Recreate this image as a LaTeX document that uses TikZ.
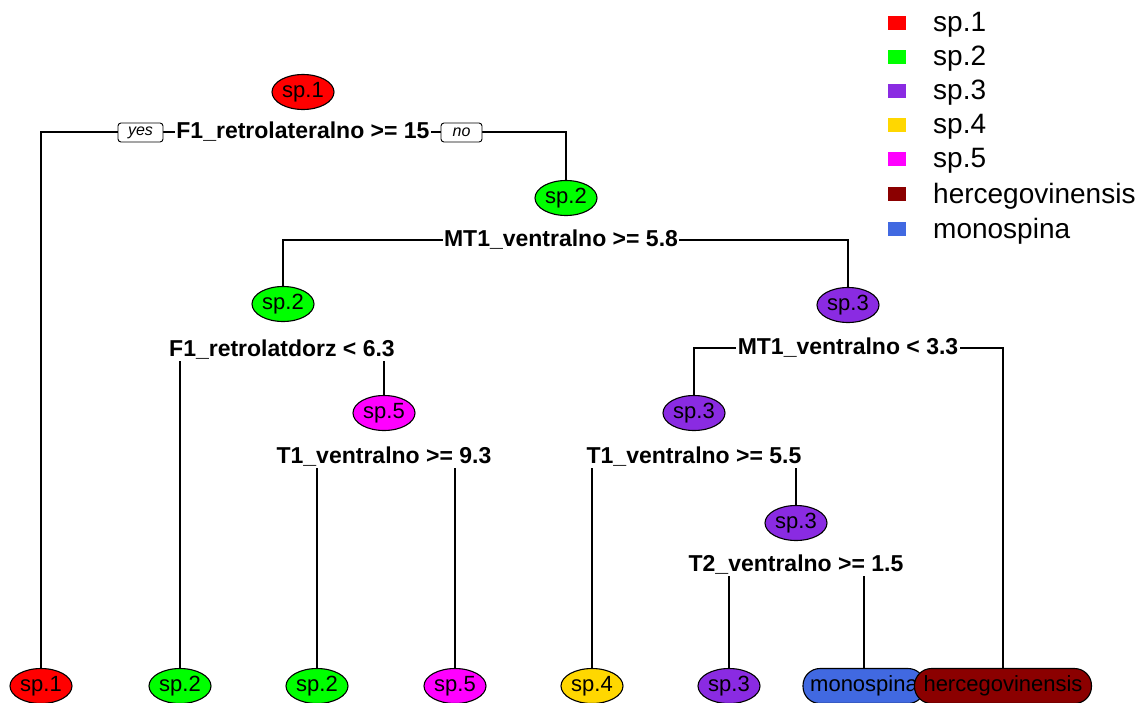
\documentclass[tikz,border=0pt]{standalone}
\usepackage{fontspec}
\setmainfont{Liberation Sans}
\usetikzlibrary{shapes.geometric,backgrounds}
\definecolor{cred}{HTML}{FF0000}
\definecolor{cgreen}{HTML}{00FF00}
\definecolor{cpurple}{HTML}{8A2BE2}
\definecolor{cgold}{HTML}{FFD700}
\definecolor{cmag}{HTML}{FF00FF}
\definecolor{cdred}{HTML}{8B0000}
\definecolor{cblue}{HTML}{4169E1}
\begin{document}
\begin{tikzpicture}[x=1pt,y=-1pt,
  leaf/.style={ellipse,draw=black,line width=1.1pt,minimum width=62pt,minimum height=35pt,inner sep=0pt,font=\fontsize{22}{22}\selectfont},
  wide/.style={rectangle,rounded corners=17pt,draw=black,line width=1.1pt,minimum height=35pt,inner sep=0pt,font=\fontsize{22}{22}\selectfont},
  split/.style={fill=white,inner sep=1.5pt,font=\bfseries\fontsize{23}{23}\selectfont},
  yn/.style={draw=black,line width=0.9pt,rounded corners=3pt,fill=white,font=\itshape\fontsize{16}{16}\selectfont,minimum height=19pt,inner sep=1pt},
  edge/.style={line width=1.3pt},
  legsq/.style={minimum width=18pt,minimum height=14pt,inner sep=0pt},
  legtx/.style={anchor=west,inner sep=0pt,font=\fontsize{28}{28}\selectfont}]
\useasboundingbox (0,0) rectangle (1140,702);
% internal nodes and splits
\node[leaf,fill=cred] (n1) at (303,92) {sp.1};
\node[split] (s1) at (303,132) {F1\_retrolateralno >= 15};
\node[yn,minimum width=45pt] (yes) at (140.5,132.5) {yes};
\node[yn,minimum width=41pt] (no) at (461.5,132.5) {no};
\node[leaf,fill=cgreen] (n3) at (566,198) {sp.2};
\node[split] (s3) at (561,240) {MT1\_ventralno >= 5.8};
\node[leaf,fill=cgreen] (n6) at (283,304) {sp.2};
\node[split] (s6) at (282,350) {F1\_retrolatdorz < 6.3};
\node[leaf,fill=cmag] (n13) at (384,413) {sp.5};
\node[split] (s13) at (384,457) {T1\_ventralno >= 9.3};
\node[leaf,fill=cpurple] (n7) at (848,305) {sp.3};
\node[split] (s7) at (848,348) {MT1\_ventralno < 3.3};
\node[leaf,fill=cpurple] (n14) at (694,413) {sp.3};
\node[split] (s14) at (694,457) {T1\_ventralno >= 5.5};
\node[leaf,fill=cpurple] (n29) at (796,523) {sp.3};
\node[split] (s29) at (796,565) {T2\_ventralno >= 1.5};
% leaves
\node[leaf,fill=cred] (l1) at (41,686) {sp.1};
\node[leaf,fill=cgreen] (l2) at (180,686) {sp.2};
\node[leaf,fill=cgreen] (l3) at (317,686) {sp.2};
\node[leaf,fill=cmag] (l4) at (455,686) {sp.5};
\node[leaf,fill=cgold] (l5) at (592,686) {sp.4};
\node[leaf,fill=cpurple] (l6) at (729,686) {sp.3};
\node[wide,fill=cblue,minimum width=122pt] (l7) at (864,686) {monospina};
\node[wide,fill=cdred,minimum width=177pt] (l8) at (1003,686) {hercegovinensis};
% connectors
\begin{pgfonlayer}{background}
\draw[edge] (s1.center) -| (l1.north);
\draw[edge] (s1.center) -| (n3.north);
\draw[edge] (s3.center) -| (n6.north);
\draw[edge] (s3.center) -| (n7.north);
\draw[edge] (s6.center) -| (l2.north);
\draw[edge] (s6.center) -| (n13.north);
\draw[edge] (s13.center) -| (l3.north);
\draw[edge] (s13.center) -| (l4.north);
\draw[edge] (s7.center) -| (n14.north);
\draw[edge] (s7.center) -| (l8.north);
\draw[edge] (s14.center) -| (l5.north);
\draw[edge] (s14.center) -| (n29.north);
\draw[edge] (s29.center) -| (l6.north);
\draw[edge] (s29.center) -| (l7.north);
\end{pgfonlayer}
% legend
\foreach \c/\t/\y/\nm in {cred/sp.1/23/g1, cgreen/sp.2/57/g2, cpurple/sp.3/91/g3, cgold/sp.4/125/g4, cmag/sp.5/159/g5, cdred/hercegovinensis/194/g6, cblue/monospina/229/g7}{
  \node[legsq,fill=\c] (\nm s) at (897,\y) {};
  \node[legtx] (\nm t) at (933,\y+2) {\t};
}
\end{tikzpicture}
\end{document}
